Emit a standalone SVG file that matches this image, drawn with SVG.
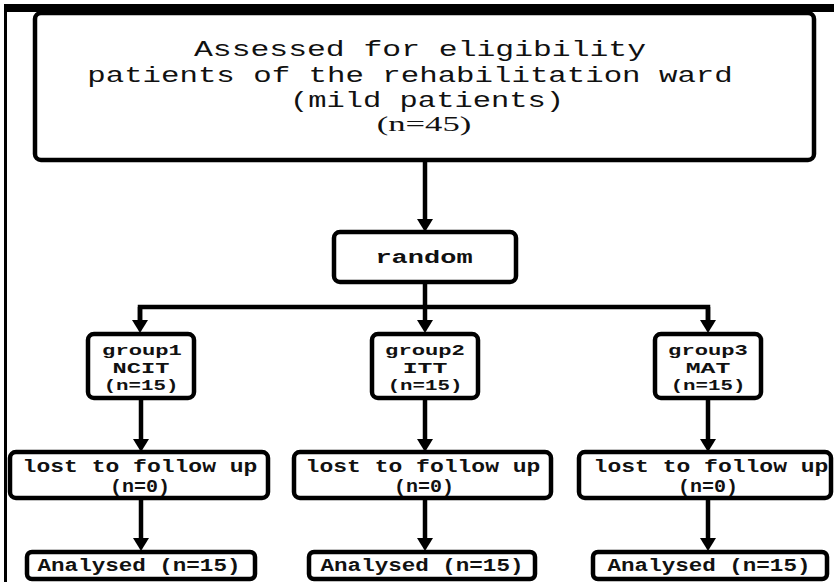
<svg xmlns="http://www.w3.org/2000/svg" width="834" height="582" viewBox="0 0 834 582">
<style>
.box{fill:#fff;stroke:#000;stroke-width:4.5}
.con{stroke:#000;stroke-width:4.5;fill:none}
.t{font-family:"Liberation Mono","DejaVu Sans Mono",monospace;fill:#111;text-anchor:middle}
.big{font-size:22px}
.sm{font-size:18px;font-weight:bold}
.gp{font-size:15.5px;font-weight:bold}
</style>
<defs>
<marker id="ah" viewBox="0 -8 13 16" refX="0" refY="0" markerWidth="13" markerHeight="16" markerUnits="userSpaceOnUse" orient="auto">
<path d="M0,-8 L13,0 L0,8 z" fill="#000"/>
</marker>
</defs>
<rect x="0" y="0" width="834" height="582" fill="#fff"/>
<g id="frame">
<rect x="5" y="4" width="829" height="8" fill="#000"/>
<rect x="4" y="4" width="3" height="578" fill="#000"/>
</g>
<g id="connectors">
<line class="con" x1="425" y1="160" x2="425" y2="219" marker-end="url(#ah)"/>
<line class="con" x1="425" y1="282" x2="425" y2="320" marker-end="url(#ah)"/>
<polyline class="con" points="140,321 140,307 708,307 708,321"/>
<line class="con" x1="140" y1="307" x2="140" y2="320" marker-end="url(#ah)"/>
<line class="con" x1="708" y1="307" x2="708" y2="320" marker-end="url(#ah)"/>
<line class="con" x1="141" y1="398" x2="141" y2="439" marker-end="url(#ah)"/>
<line class="con" x1="425" y1="398" x2="425" y2="439" marker-end="url(#ah)"/>
<line class="con" x1="708" y1="398" x2="708" y2="439" marker-end="url(#ah)"/>
<line class="con" x1="141" y1="498" x2="141" y2="538" marker-end="url(#ah)"/>
<line class="con" x1="425" y1="498" x2="425" y2="538" marker-end="url(#ah)"/>
<line class="con" x1="708" y1="498" x2="708" y2="538" marker-end="url(#ah)"/>
</g>
<g id="eligibility">
<rect class="box" x="35" y="13" width="779" height="147" rx="6"/>
<text class="t big" transform="translate(420,56) scale(1.427,1)">Assessed for eligibility</text>
<text class="t big" transform="translate(410,82) scale(1.398,1)">patients of the rehabilitation ward</text>
<text class="t big" transform="translate(427,107) scale(1.384,1)">(mild patients)</text>
<text class="t" font-size="21" style="font-family:'Liberation Serif',serif" transform="translate(424,131) scale(1.65,1)">(n=45)</text>
</g>
<g id="random">
<rect class="box" x="334" y="232" width="182" height="50" rx="6"/>
<text class="t sm" transform="translate(424,263) scale(1.5,1)">random</text>
</g>
<g id="group1">
<rect class="box" x="88" y="334" width="106" height="64" rx="6"/>
<text class="t gp" transform="translate(142,355) scale(1.43,1)">group1</text>
<text class="t gp" transform="translate(141,373) scale(1.53,1)">NCIT</text>
<text class="t gp" transform="translate(141,390) scale(1.34,1)">(n=15)</text>
</g>
<g id="group2">
<rect class="box" x="372" y="334" width="106" height="64" rx="6"/>
<text class="t gp" transform="translate(425,355) scale(1.43,1)">group2</text>
<text class="t gp" transform="translate(425,373) scale(1.6,1)">ITT</text>
<text class="t gp" transform="translate(425,390) scale(1.34,1)">(n=15)</text>
</g>
<g id="group3">
<rect class="box" x="655" y="334" width="106" height="64" rx="6"/>
<text class="t gp" transform="translate(708,355) scale(1.43,1)">group3</text>
<text class="t gp" transform="translate(708,373) scale(1.6,1)">MAT</text>
<text class="t gp" transform="translate(708,390) scale(1.34,1)">(n=15)</text>
</g>
<g id="lost1">
<rect class="box" x="10" y="452" width="258" height="46" rx="6"/>
<text class="t sm" transform="translate(140,472) scale(1.28,1)">lost to follow up</text>
<text class="t sm" transform="translate(140,492) scale(1.11,1)">(n=0)</text>
</g>
<g id="lost2">
<rect class="box" x="294" y="452" width="257" height="46" rx="6"/>
<text class="t sm" transform="translate(423,472) scale(1.28,1)">lost to follow up</text>
<text class="t sm" transform="translate(424,492) scale(1.11,1)">(n=0)</text>
</g>
<g id="lost3">
<rect class="box" x="579" y="452" width="252" height="46" rx="6"/>
<text class="t sm" transform="translate(711,472) scale(1.28,1)">lost to follow up</text>
<text class="t sm" transform="translate(708,492) scale(1.11,1)">(n=0)</text>
</g>
<g id="analysed1">
<rect class="box" x="27" y="552" width="228" height="27" rx="5"/>
<text class="t sm" transform="translate(139,571) scale(1.253,1)">Analysed (n=15)</text>
</g>
<g id="analysed2">
<rect class="box" x="309" y="552" width="226" height="27" rx="5"/>
<text class="t sm" transform="translate(422,571) scale(1.253,1)">Analysed (n=15)</text>
</g>
<g id="analysed3">
<rect class="box" x="593" y="552" width="234" height="27" rx="5"/>
<text class="t sm" transform="translate(709,571) scale(1.253,1)">Analysed (n=15)</text>
</g>
</svg>
